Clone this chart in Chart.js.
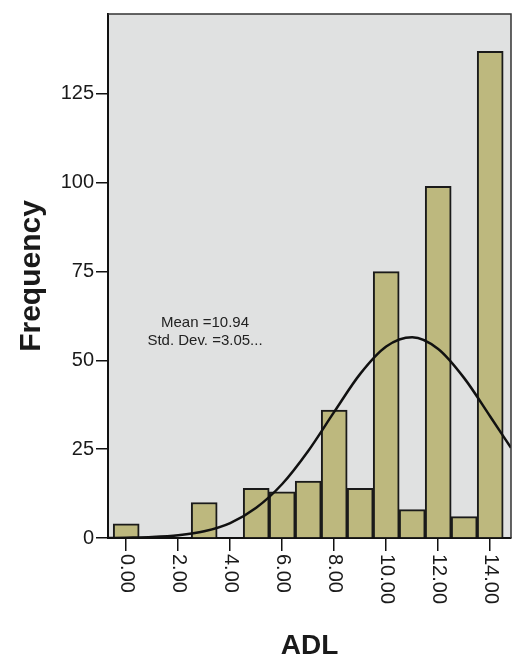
<!DOCTYPE html>
<html>
<head>
<meta charset="utf-8">
<script src="https://cdn.jsdelivr.net/npm/chart.js@4/dist/chart.umd.min.js"></script>
<style>
html, body { margin: 0; padding: 0; background: #fff; }
#wrap { width: 515px; height: 661px; position: relative; }
</style>
</head>
<body>
<div id="wrap"><canvas id="histChart"></canvas></div>
<script>
// ADL histogram + normal curve
const binCenters = [0, 1, 2, 3, 4, 5, 6, 7, 8, 9, 10, 11, 12, 13, 14];
const counts = [4, 0, 0, 10, 0, 14, 13, 16, 36, 14, 75, 8, 99, 6, 137];

// normal curve
const curveX = [-0.7, 0, 1, 2, 3, 4, 5, 6, 7, 8, 9, 10, 11, 12, 13, 14, 14.8];
const curveY = [0, 0.1, 0.3, 0.8, 1.9, 4.2, 8.5, 15.2, 24.5, 35.5, 46.2, 53.9, 56.5, 53.2, 45.0, 34.2, 25.4];

const yTicks = [0, 25, 50, 75, 100, 125];
const xTicks = [0, 2, 4, 6, 8, 10, 12, 14];
const xTickLabels = ["0.00", "2.00", "4.00", "6.00", "8.00", "10.00", "12.00", "14.00"];
const statLines = ["Mean =10.94", "Std. Dev. =3.05..."];

const FONT = "'Liberation Sans', Arial, sans-serif";

const decor = {
    id: "decor",
    beforeDraw(chart) {
        const { ctx, chartArea: a } = chart;
        ctx.save();
        ctx.fillStyle = "#e0e1e1";
        ctx.fillRect(a.left, a.top, a.right - a.left, a.bottom - a.top);
        ctx.restore();
    },
    afterDraw(chart) {
        const { ctx, chartArea: a, scales } = chart;
        ctx.save();

        // frame on top and right
        ctx.strokeStyle = "#333";
        ctx.lineWidth = 1.5;
        ctx.beginPath();
        ctx.moveTo(a.left, a.top);
        ctx.lineTo(a.right, a.top);
        ctx.lineTo(a.right, a.bottom);
        ctx.stroke();

        // x tick labels, turned clockwise
        ctx.fillStyle = "#1a1a1a";
        ctx.font = "20px " + FONT;
        ctx.textAlign = "left";
        ctx.textBaseline = "middle";
        xTicks.forEach((v, i) => {
            const px = scales.x.getPixelForValue(v);
            ctx.save();
            ctx.translate(px, a.bottom + 16);
            ctx.rotate(Math.PI / 2);
            ctx.fillText(xTickLabels[i], 0, 0);
            ctx.restore();
        });

        // axis titles
        ctx.font = "bold 28px " + FONT;
        ctx.textAlign = "center";
        ctx.fillText("ADL", (a.left + a.right) / 2, 646);

        ctx.save();
        ctx.translate(32, (a.top + a.bottom) / 2);
        ctx.rotate(-Math.PI / 2);
        ctx.font = "bold 30px " + FONT;
        ctx.fillText("Frequency", 0, 0);
        ctx.restore();

        // stats box text
        ctx.font = "15px " + FONT;
        ctx.fillStyle = "#222";
        statLines.forEach((t, i) => ctx.fillText(t, 205, 323 + i * 18));

        ctx.restore();
    }
};

const histCtx = document.getElementById("histChart");

new Chart(histCtx, {
    type: "bar",
    data: {
        datasets: [{
            type: "line",
            data: curveX.map((x, i) => ({ x: x, y: curveY[i] })),
            borderColor: "#111",
            borderWidth: 2.5,
            pointRadius: 0,
            fill: false,
            cubicInterpolationMode: "monotone",
            order: 0
        }, {
            type: "bar",
            data: binCenters.map((x, i) => ({ x: x, y: counts[i] })),
            backgroundColor: "#bdb87e",
            borderColor: "#1a1a1a",
            borderWidth: 2,
            barPercentage: 1,
            categoryPercentage: 1,
            order: 1
        }]
    },
    options: {
        responsive: true,
        maintainAspectRatio: false,
        animation: false,
        devicePixelRatio: 1,
        layout: { autoPadding: false, padding: { top: 8, right: 4, left: 0, bottom: 0 } },
        plugins: { legend: { display: false }, tooltip: { enabled: false } },
        scales: {
            x: {
                type: "linear",
                min: -0.7,
                max: 14.8,
                offset: false,
                afterBuildTicks: (s) => { s.ticks = xTicks.map(v => ({ value: v })); },
                afterFit: (s) => { s.height = 123; },
                ticks: { display: false },
                grid: { offset: false, drawOnChartArea: false, tickLength: 13, color: "#111", lineWidth: 1.5 },
                border: { color: "#111", width: 2 }
            },
            y: {
                min: 0,
                max: 147.5,
                afterBuildTicks: (s) => { s.ticks = yTicks.map(v => ({ value: v })); },
                afterFit: (s) => { s.width = 108; },
                ticks: { color: "#1a1a1a", font: { family: FONT, size: 20 }, padding: 2 },
                grid: { drawOnChartArea: false, tickLength: 12, color: "#111", lineWidth: 1.5 },
                border: { color: "#111", width: 2 }
            }
        }
    },
    plugins: [decor]
});
</script>
</body>
</html>
